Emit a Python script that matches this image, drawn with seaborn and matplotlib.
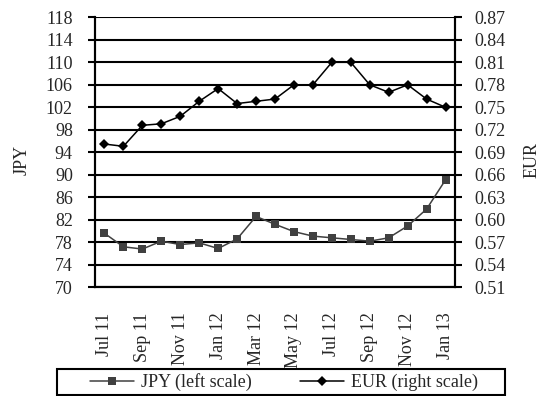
import matplotlib
matplotlib.use("Agg")
import matplotlib.pyplot as plt
from matplotlib.patches import Rectangle
import numpy as np
import pandas as pd
import seaborn as sns

months = ["Jul 11", "Aug 11", "Sep 11", "Oct 11", "Nov 11", "Dec 11",
          "Jan 12", "Feb 12", "Mar 12", "Apr 12", "May 12", "Jun 12",
          "Jul 12", "Aug 12", "Sep 12", "Oct 12", "Nov 12", "Dec 12", "Jan 13"]
jpy = [79.6, 77.2, 76.8, 78.2, 77.6, 77.9, 76.9, 78.6, 82.6, 81.2,
       79.9, 79.1, 78.8, 78.5, 78.2, 78.8, 80.9, 83.9, 89.1]
eur = [0.701, 0.698, 0.726, 0.728, 0.738, 0.758, 0.775, 0.755, 0.758, 0.761,
       0.780, 0.780, 0.810, 0.810, 0.780, 0.770, 0.780, 0.761, 0.750]
jpy_ticks = list(range(70, 119, 4))
eur_ticks = [0.51, 0.54, 0.57, 0.60, 0.63, 0.66, 0.69, 0.72, 0.75, 0.78, 0.81, 0.84, 0.87]
label_months = months[::2]

sns.set_theme(style="white")
plt.rcParams["font.family"] = ["Liberation Serif", "DejaVu Serif"]
plt.rcParams["font.size"] = 13

df = pd.DataFrame({"month": months, "JPY": jpy, "EUR": eur})
df["pos"] = np.arange(len(months))

W, H = 552, 396
fig = plt.figure(figsize=(W / 100, H / 100), dpi=100)
ax = fig.add_axes([95 / W, 1 - 287.3 / H, 360 / W, 270 / H])
ax2 = ax.twinx()

sns.lineplot(data=df, x="pos", y="JPY", ax=ax, color="#404040", marker="s",
             markersize=5.5, markeredgewidth=0, linewidth=1.1, label="JPY (left scale)",
             legend=False)
sns.lineplot(data=df, x="pos", y="EUR", ax=ax2, color="black", marker="D",
             markersize=5, markeredgewidth=0, linewidth=1.1, label="EUR (right scale)",
             legend=False)

ax.set_xlim(-0.5, len(months) - 0.5)
ax.set_ylim(70, 118)
ax2.set_ylim(0.51, 0.87)
ax.set_yticks(jpy_ticks)
ax.set_yticklabels([str(t) for t in jpy_ticks])
ax2.set_yticks(eur_ticks)
ax2.set_yticklabels([f"{t:.2f}" for t in eur_ticks])

ax.set_xticks(np.arange(0, len(months), 2))
ax.set_xticklabels(label_months, rotation=90, va="top")
ax.set_xticks(np.arange(-0.5, len(months), 1), minor=True)
ax.tick_params(axis="x", which="major", length=0, pad=18, labelsize=13)
ax.tick_params(axis="x", which="minor", length=5, width=1.5, color="black", direction="out")
ax.tick_params(axis="y", length=5, width=1.5, color="black", direction="out", pad=11, labelsize=13)
ax2.tick_params(axis="y", length=5, width=1.5, color="black", direction="out", pad=9, labelsize=13)

ax.grid(False)
ax2.grid(False)
for t in jpy_ticks:
    ax.axhline(t, color="black", linewidth=1.5, zorder=0)

for a in (ax, ax2):
    a.spines["top"].set_visible(False)
    for s in ("left", "right", "bottom"):
        a.spines[s].set_color("black")
        a.spines[s].set_linewidth(1.5)

ax.set_xlabel("")
ax.set_ylabel("")
ax2.set_ylabel("")
fig.text(22 / W, 1 - 160 / H, "JPY", rotation=90, ha="center", va="center", fontsize=13)
fig.text(532 / W, 1 - 160 / H, "EUR", rotation=90, ha="center", va="center", fontsize=13)

# legend entries without frame, plus a separate box around them
h1, l1 = ax.get_legend_handles_labels()
h2, l2 = ax2.get_legend_handles_labels()
leg = fig.legend(h1 + h2, l1 + l2, loc="center", bbox_to_anchor=(284 / W, 1 - 382 / H), ncol=2,
                 frameon=False, fontsize=13, handlelength=2.4, handletextpad=0.4,
                 columnspacing=2.7, borderpad=0)
box = Rectangle((57 / W, 1 - 395 / H), 448 / W, 26 / H, transform=fig.transFigure,
                fill=False, edgecolor="black", linewidth=1.5)
fig.add_artist(box)

fig.savefig("out.png", dpi=100)
